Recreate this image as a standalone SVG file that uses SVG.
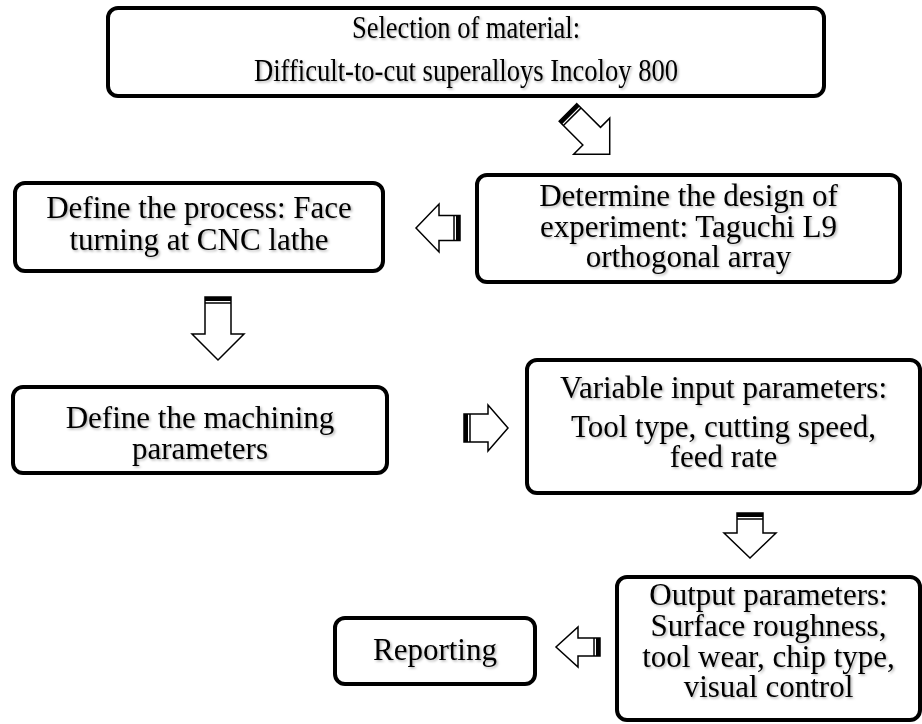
<svg xmlns="http://www.w3.org/2000/svg" width="922" height="724" viewBox="0 0 922 724">
<style>
.box{fill:#fff;stroke:#000;stroke-width:4}
.t{font-family:"Liberation Serif","Times New Roman",serif;font-size:31px;fill:#000;text-anchor:middle;filter:url(#sh)}
.arr{fill:#fff;stroke:#000;stroke-width:1.5;stroke-linejoin:miter}
.bar{fill:#000}
.thin{stroke:#000;stroke-width:1.5}
</style>
<defs>
<filter id="sh" x="-5%" y="-20%" width="110%" height="140%">
<feDropShadow dx="1.5" dy="1.5" stdDeviation="1" flood-color="#000" flood-opacity="0.3"/>
</filter>
</defs>
<rect width="922" height="724" fill="#fff"/>

<g id="n1">
<rect class="box" x="108" y="8" width="716" height="88" rx="10"/>
<text class="t" x="466" y="38" style="font-size:32px" textLength="228" lengthAdjust="spacingAndGlyphs">Selection of material:</text>
<text class="t" x="466" y="81" style="font-size:32px" textLength="424" lengthAdjust="spacingAndGlyphs">Difficult-to-cut superalloys Incoloy 800</text>
</g>

<g id="n2">
<rect class="box" x="477" y="175" width="423" height="107" rx="10"/>
<text class="t" x="688.5" y="206">Determine the design of</text>
<text class="t" x="688.5" y="237">experiment: Taguchi L9</text>
<text class="t" x="688.5" y="267">orthogonal array</text>
</g>

<g id="n3">
<rect class="box" x="15" y="183" width="368" height="88" rx="10"/>
<text class="t" x="199" y="218">Define the process: Face</text>
<text class="t" x="199" y="250">turning at CNC lathe</text>
</g>

<g id="n4">
<rect class="box" x="13" y="387" width="374" height="86" rx="10"/>
<text class="t" x="200" y="428">Define the machining</text>
<text class="t" x="200" y="459">parameters</text>
</g>

<g id="n5">
<rect class="box" x="527" y="360" width="393" height="133" rx="10"/>
<text class="t" x="723.5" y="398">Variable input parameters:</text>
<text class="t" x="723.5" y="437">Tool type, cutting speed,</text>
<text class="t" x="723.5" y="467">feed rate</text>
</g>

<g id="n6">
<rect class="box" x="617" y="577" width="303" height="143" rx="10"/>
<text class="t" x="768.5" y="605">Output parameters:</text>
<text class="t" x="768.5" y="636">Surface roughness,</text>
<text class="t" x="768.5" y="667">tool wear, chip type,</text>
<text class="t" x="768.5" y="697">visual control</text>
</g>

<g id="n7">
<rect class="box" x="335" y="618" width="200" height="66" rx="10"/>
<text class="t" x="435" y="660">Reporting</text>
</g>

<g id="connectors">
<g transform="translate(568,112.5) rotate(45)">
<polygon class="arr" points="0,-12.5 33.5,-12.5 33.5,-25.5 59,0 33.5,25.5 33.5,12.5 0,12.5"/>
<rect class="bar" x="0" y="-12.5" width="4" height="25"/>
<line class="thin" x1="6" y1="-12.5" x2="6" y2="12.5"/>
</g>
<g transform="translate(460,228) rotate(180)">
<polygon class="arr" points="0,-12.5 21,-12.5 21,-24 44,0 21,24 21,12.5 0,12.5"/>
<rect class="bar" x="0" y="-12.5" width="4" height="25"/>
<line class="thin" x1="6" y1="-12.5" x2="6" y2="12.5"/>
</g>
<g transform="translate(218,297) rotate(90)">
<polygon class="arr" points="0,-13 37,-13 37,-26 63,0 37,26 37,13 0,13"/>
<rect class="bar" x="0" y="-13" width="4" height="26"/>
<line class="thin" x1="6" y1="-13" x2="6" y2="13"/>
</g>
<g transform="translate(464,428)">
<polygon class="arr" points="0,-14 24,-14 24,-23 44,0 24,23 24,14 0,14"/>
<rect class="bar" x="0" y="-14" width="4" height="28"/>
<line class="thin" x1="6" y1="-14" x2="6" y2="14"/>
</g>
<g transform="translate(750,513) rotate(90)">
<polygon class="arr" points="0,-13 20,-13 20,-26 45,0 20,26 20,13 0,13"/>
<rect class="bar" x="0" y="-13" width="4" height="26"/>
<line class="thin" x1="6" y1="-13" x2="6" y2="13"/>
</g>
<g transform="translate(600,647) rotate(180)">
<polygon class="arr" points="0,-9 22,-9 22,-20 44,0 22,20 22,9 0,9"/>
<rect class="bar" x="0" y="-9" width="4" height="18"/>
<line class="thin" x1="6" y1="-9" x2="6" y2="9"/>
</g>
</g>
</svg>
